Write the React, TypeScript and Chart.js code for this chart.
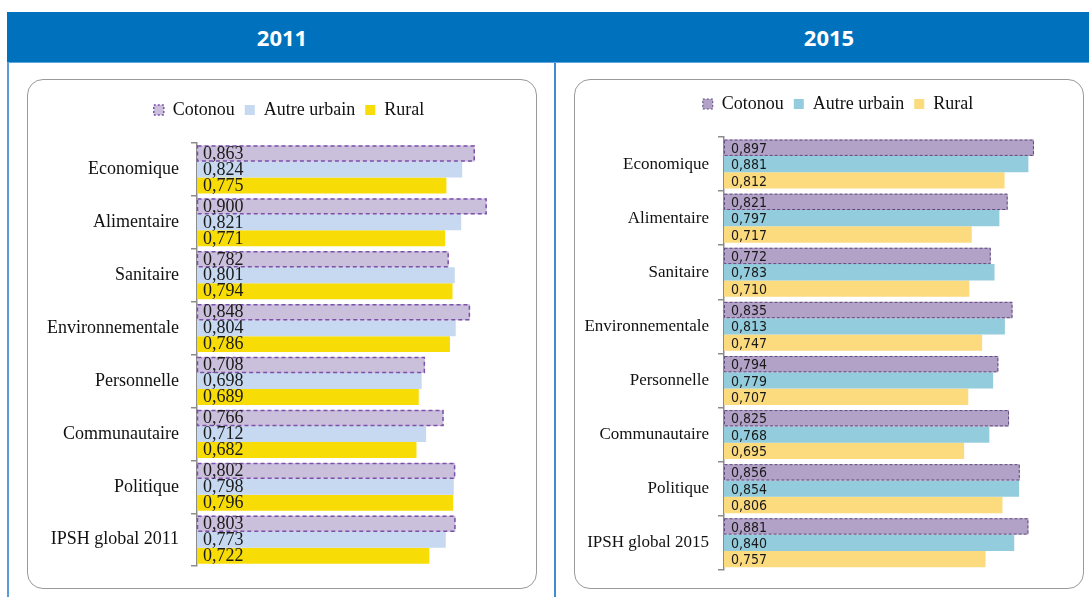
import React, { useEffect, useRef } from "react";
import { Chart, registerables } from "chart.js";

Chart.register(...registerables);

// ---------- data ----------
const seriesNames = ["Cotonou", "Autre urbain", "Rural"];

const categories2011 = [
  "Economique",
  "Alimentaire",
  "Sanitaire",
  "Environnementale",
  "Personnelle",
  "Communautaire",
  "Politique",
  "IPSH global 2011",
];
const cotonou2011 = [0.863, 0.9, 0.782, 0.848, 0.708, 0.766, 0.802, 0.803];
const autreUrbain2011 = [0.824, 0.821, 0.801, 0.804, 0.698, 0.712, 0.798, 0.773];
const rural2011 = [0.775, 0.771, 0.794, 0.786, 0.689, 0.682, 0.796, 0.722];

const categories2015 = [
  "Economique",
  "Alimentaire",
  "Sanitaire",
  "Environnementale",
  "Personnelle",
  "Communautaire",
  "Politique",
  "IPSH global 2015",
];
const cotonou2015 = [0.897, 0.821, 0.772, 0.835, 0.794, 0.825, 0.856, 0.881];
const autreUrbain2015 = [0.881, 0.797, 0.783, 0.813, 0.779, 0.768, 0.854, 0.84];
const rural2015 = [0.812, 0.717, 0.71, 0.747, 0.707, 0.695, 0.806, 0.757];

const panelTitles = ["2011", "2015"];

// ---------- helpers ----------
const fmt = (v: number) => v.toFixed(3).replace(".", ",");

const barDecor = {
  id: "barDecor",
  afterDatasetsDraw(chart: any, _args: any, opts: any) {
    const ctx = chart.ctx;
    chart.data.datasets.forEach((ds: any, di: number) => {
      const meta = chart.getDatasetMeta(di);
      meta.data.forEach((bar: any, i: number) => {
        const { x, y, base, height } = bar.getProps(["x", "y", "base", "height"], true);
        if (di === 0) {
          ctx.save();
          ctx.setLineDash(opts.dash);
          ctx.lineWidth = opts.dashWidth;
          ctx.strokeStyle = opts.dashColor;
          ctx.strokeRect(base + 0.5, y - height / 2 + 0.5, x - base - 1, height - 1);
          ctx.restore();
        }
        ctx.save();
        ctx.font = opts.font;
        ctx.fillStyle = "#1a1a1a";
        ctx.textAlign = "left";
        ctx.textBaseline = "middle";
        ctx.fillText(fmt(ds.data[i]), base + opts.labelDx, y + opts.labelDy);
        ctx.restore();
      });
    });
  },
};

type PanelCfg = {
  left: number;
  top: number;
  width: number;
  categories: string[];
  values: number[][];
  colors: string[];
  dashColor: string;
  dash: number[];
  dashWidth: number;
  labelFont: string;
  labelDx: number;
  labelDy: number;
  catFont: { family: string; size: number };
  catPadding: number;
  yWidth: number;
  xMax: number;
  pad: { left: number; right: number; top: number; bottom: number };
};

function BarPanel({ cfg }: { cfg: PanelCfg }) {
  const ref = useRef<HTMLCanvasElement>(null);
  useEffect(() => {
    const chart = new Chart(ref.current as HTMLCanvasElement, {
      type: "bar",
      data: {
        labels: cfg.categories,
        datasets: seriesNames.map((name, k) => ({
          label: name,
          data: cfg.values[k],
          backgroundColor: cfg.colors[k],
          borderWidth: 0,
          barPercentage: 1,
          categoryPercentage: 0.905,
        })),
      },
      options: {
        indexAxis: "y",
        animation: false,
        responsive: false,
        maintainAspectRatio: false,
        layout: { padding: cfg.pad },
        plugins: {
          tooltip: { enabled: false },
          legend: {
            display: true,
            position: "top",
            labels: {
              boxWidth: 10,
              boxHeight: 10,
              padding: 10,
              color: "#111",
              font: { family: "'Liberation Serif', 'Times New Roman', serif", size: 18 },
              generateLabels(chart: any) {
                const items = Chart.defaults.plugins.legend.labels.generateLabels(chart);
                items.forEach((it: any, k: number) => {
                  if (k === 0) {
                    it.lineWidth = cfg.dashWidth;
                    it.strokeStyle = cfg.dashColor;
                    it.lineDash = [2, 2];
                  } else {
                    it.lineWidth = 0;
                  }
                });
                return items;
              },
            },
          },
          title: {
            display: true,
            text: " ",
            weight: 500,
            padding: 0,
            font: { size: 14, lineHeight: 1 },
          },
          barDecor: {
            dash: cfg.dash,
            dashWidth: cfg.dashWidth,
            dashColor: cfg.dashColor,
            font: cfg.labelFont,
            labelDx: cfg.labelDx,
            labelDy: cfg.labelDy,
          },
        } as any,
        scales: {
          x: { display: false, min: 0, max: cfg.xMax },
          y: {
            grid: {
              offset: true,
              drawOnChartArea: false,
              drawTicks: true,
              tickLength: 6,
              color: "#8c8c8c",
              lineWidth: 1.5,
            },
            border: { display: true, color: "#8c8c8c", width: 1.5 },
            ticks: {
              color: "#111",
              padding: cfg.catPadding,
              font: { family: cfg.catFont.family, size: cfg.catFont.size },
            },
            afterFit(scale: any) {
              scale.width = cfg.yWidth;
            },
          },
        },
      },
      plugins: [barDecor],
    } as any);
    return () => chart.destroy();
  }, []);
  return (
    <canvas
      ref={ref}
      width={cfg.width}
      height={510}
      style={{ position: "absolute", left: cfg.left, top: cfg.top, width: cfg.width, height: 510 }}
    />
  );
}

const serif = "'Liberation Serif', 'Times New Roman', serif";

const cfg2011: PanelCfg = {
  left: 27,
  top: 79,
  width: 524,
  categories: categories2011,
  values: [cotonou2011, autreUrbain2011, rural2011],
  colors: ["#CBC0DC", "#C6D9F1", "#F8DC06"],
  dashColor: "#7B4FAA",
  dash: [4, 3],
  dashWidth: 1.5,
  labelFont: "18px 'Liberation Serif', 'Times New Roman', serif",
  labelDx: 6,
  labelDy: 0.5,
  catFont: { family: serif, size: 18 },
  catPadding: 12,
  yWidth: 170,
  xMax: 1.1,
  pad: { left: 0, right: 0, top: 12, bottom: 22 },
};

const cfg2015: PanelCfg = {
  left: 574,
  top: 79,
  width: 528,
  categories: categories2015,
  values: [cotonou2015, autreUrbain2015, rural2015],
  colors: ["#B3A2C7", "#93CDDD", "#FCDA7E"],
  dashColor: "#5F4B7D",
  dash: [3, 2],
  dashWidth: 1,
  labelFont: "14px 'Liberation Sans Narrow', 'DejaVu Sans Condensed', 'Liberation Sans', sans-serif",
  labelDx: 7,
  labelDy: 1.5,
  catFont: { family: serif, size: 17 },
  catPadding: 9,
  yWidth: 150,
  xMax: 1.094,
  pad: { left: 0, right: 0, top: 6, bottom: 18 },
};

export default function App() {
  const boxStyle = (left: number): React.CSSProperties => ({
    position: "absolute",
    left,
    top: 79,
    width: 510,
    height: 510,
    boxSizing: "border-box",
    border: "1.5px solid #9a9a9a",
    borderRadius: 16,
  });
  const titleStyle = (center: number): React.CSSProperties => ({
    position: "absolute",
    left: center - 60,
    width: 120,
    top: 12,
    height: 51,
    lineHeight: "51px",
    textAlign: "center",
    color: "#ffffff",
    fontFamily: "'Open Sans', 'Noto Sans', sans-serif",
    fontWeight: 700,
    fontSize: 22,
  });
  return (
    <div
      style={{
        position: "fixed",
        left: 0,
        top: 0,
        width: 1089,
        height: 597,
        background: "#ffffff",
        overflow: "hidden",
      }}
    >
      <div style={{ position: "absolute", left: 7, top: 12, width: 1082, height: 51, background: "#0071BC" }} />
      <div style={{ position: "absolute", left: 7, top: 62, width: 1082, height: 1, background: "#5EA6DD" }} />
      <div style={titleStyle(282)}>{panelTitles[0]}</div>
      <div style={titleStyle(829)}>{panelTitles[1]}</div>
      <div style={{ position: "absolute", left: 7, top: 63, width: 2, height: 534, background: "#5B9BD5" }} />
      <div style={{ position: "absolute", left: 554, top: 63, width: 2, height: 534, background: "#3F8CD2" }} />
      <div style={boxStyle(27)} />
      <div style={boxStyle(574)} />
      <BarPanel cfg={cfg2011} />
      <BarPanel cfg={cfg2015} />
    </div>
  );
}
